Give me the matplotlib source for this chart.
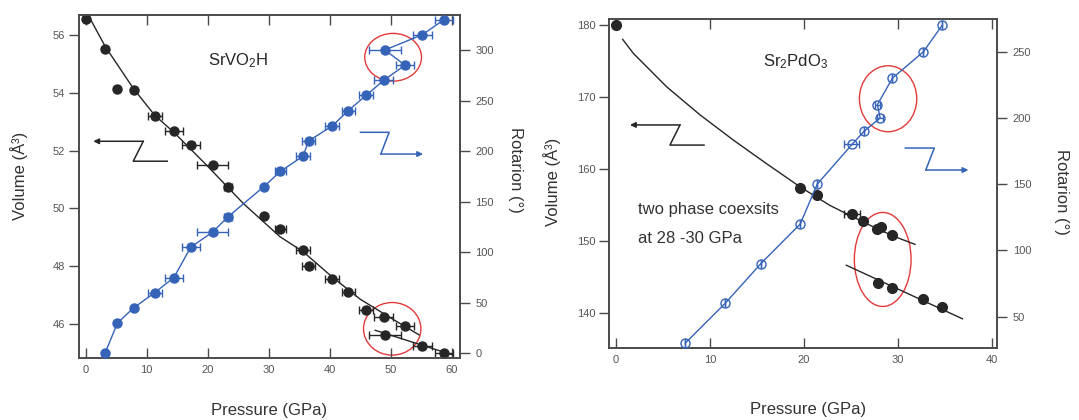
import matplotlib
matplotlib.use("Agg")
import matplotlib.pyplot as plt
from matplotlib.patches import Ellipse

plt.rcParams["font.family"] = ["Liberation Sans", "DejaVu Sans"]
plt.rcParams["mathtext.fontset"] = "custom"
plt.rcParams["mathtext.rm"] = "Liberation Sans"
plt.rcParams["mathtext.it"] = "Liberation Sans"

BLACK = "#262626"
BLUE = "#3563b8"
RED = "#e23a3a"
SPINE = "#4a4a4a"
TICKTXT = "#555555"

# ---- SrVO2H (left panel) ----
sv_p = [0, 3.16, 5.2, 7.85, 11.3, 14.45, 17.2, 20.8, 23.3, 29.2, 31.9, 35.6,
        36.5, 40.4, 43.0, 45.9, 48.8, 52.3, 49.0, 55.1, 58.7]
sv_vol = [56.54, 55.5, 54.13, 54.09, 53.21, 52.68, 52.18, 51.49, 50.73, 49.73,
          49.3, 48.56, 48.0, 47.57, 47.1, 46.48, 46.23, 45.93, 45.63, 45.25, 45.0]
sv_perr = [0, 0, 0, 0, 1.15, 1.45, 1.5, 2.55, 0.6, 0, 0.95, 1.1, 1.1, 1.15,
           1.1, 1.1, 1.55, 1.5, 2.6, 1.55, 1.5]
sv_rot = [0, 30, 45, 60, 75, 105, 120, 135, 165, 180, 195, 210, 225, 240,
          255, 270, 285, 300, 315, 330]          # for sv_p[1:]
sv_fit_p = [0.4, 3.2, 7.8, 11.3, 14.5, 20.0, 25.8, 31.8, 35.6, 40.4, 45.0, 50.0, 54.6]
sv_fit_v = [56.69, 55.6, 54.15, 53.22, 52.62, 51.45, 50.17, 49.02, 48.5, 47.62,
            46.85, 46.2, 45.62]
sv_fit2_p = [47.4, 60.2]
sv_fit2_v = [45.78, 44.92]

# ---- Sr2PdO3 (right panel) ----
sp_p = [0, 19.57, 21.4, 25.1, 26.3, 27.8, 28.2, 29.4, 27.9, 29.4, 32.7, 34.7]
sp_vol = [180.0, 157.3, 156.4, 153.7, 152.74, 151.6, 151.86, 150.75, 144.07,
          143.46, 141.9, 140.75]
sp_perr = [0, 0, 0, 0.87, 0, 0, 0, 0, 0, 0, 0, 0]
sp_rot_p = [7.36, 11.6, 15.4, 19.6, 21.4, 25.1, 26.4, 28.1, 27.8, 29.4, 32.7, 34.7]
sp_rot = [30, 60, 90, 120, 150, 180, 190, 200, 210, 230, 250, 270]
sp_rot_perr = [0, 0, 0, 0, 0, 0.8, 0, 0.3, 0.3, 0, 0, 0]
sp_fit_p = [0.71, 1.84, 5.39, 8.94, 12.48, 16.03, 19.57, 22.77, 26.3, 29.4, 31.8]
sp_fit_v = [178.0, 176.06, 171.4, 167.5, 164.0, 160.7, 157.5, 154.9, 152.6, 150.7, 149.5]
sp_fit2_p = [24.5, 36.85]
sp_fit2_v = [146.6, 139.15]

fig = plt.figure(figsize=(10.79, 4.2), dpi=100)


def style_axes(ax, ax2):
    for a in (ax, ax2):
        for s in a.spines.values():
            s.set_color(SPINE)
            s.set_linewidth(1.2)
    ax.tick_params(axis="x", direction="in", top=True, bottom=True, length=7,
                   width=1, color=SPINE, labelsize=8, labelcolor=TICKTXT, pad=5)
    ax.tick_params(axis="y", direction="out", length=7, width=1, color=SPINE,
                   labelsize=8, labelcolor=TICKTXT, pad=3)
    ax2.tick_params(axis="y", direction="out", length=7, width=1, color=SPINE,
                    labelsize=8, labelcolor=TICKTXT, pad=4)


def zarrow(ax, pts, color):
    # first point is the arrow head
    xs = [p[0] for p in pts]
    ys = [p[1] for p in pts]
    ax.plot(xs[1:], ys[1:], color=color, lw=1.1, clip_on=False)
    ax.annotate("", xy=pts[0], xytext=pts[1],
                arrowprops=dict(arrowstyle="-|>", color=color, lw=1.1,
                                mutation_scale=8, shrinkA=0, shrinkB=0))


def labels(ax, ax2, xl, yl, yr, xlpos, ylpos, yrpos):
    ax.set_xlabel(xl, fontsize=12, color="#333333")
    ax.xaxis.set_label_coords(*xlpos)
    ax.xaxis.label.set_va("center")
    ax.set_ylabel(yl, fontsize=12, color="#333333")
    ax.yaxis.set_label_coords(*ylpos)
    ax.yaxis.label.set_va("center")
    ax2.set_ylabel(yr, fontsize=12, color="#333333", rotation=270)
    ax2.yaxis.set_label_coords(*yrpos)
    ax2.yaxis.label.set_va("center")


# ================= left panel =================
ax = fig.add_axes([0.0732, 0.1476, 0.3531, 0.8167])
ax2 = ax.twinx()
ax.set_xlim(-1.1, 61.3)
ax.set_ylim(44.82, 56.69)
ax2.set_ylim(-4.6, 334.6)
ax.set_xticks([0, 10, 20, 30, 40, 50, 60])
ax.set_yticks([46, 48, 50, 52, 54, 56])
ax2.set_yticks([0, 50, 100, 150, 200, 250, 300])
style_axes(ax, ax2)

ax.plot(sv_fit_p, sv_fit_v, color=BLACK, lw=1.0, clip_on=False)
ax.plot(sv_fit2_p, sv_fit2_v, color=BLACK, lw=1.0)
ax.errorbar(sv_p, sv_vol, xerr=sv_perr, fmt="o", ms=6.5, color=BLACK,
            ecolor=BLACK, elinewidth=1.0, capsize=3, clip_on=False, zorder=3)
ax2.errorbar(sv_p[1:], sv_rot, xerr=sv_perr[1:], fmt="-o", ms=6.5, color=BLUE,
             ecolor=BLUE, lw=1.0, elinewidth=1.0, capsize=3, clip_on=False, zorder=3)

ax2.add_patch(Ellipse((50.35, 292.8), 9.3, 47.2, fill=False, ec=RED, lw=1.0))
ax.add_patch(Ellipse((50.2, 45.83), 9.4, 1.82, fill=False, ec=RED, lw=1.0))

zarrow(ax, [(1.24, 52.32), (9.43, 52.32), (7.79, 51.63), (13.36, 51.63)], BLACK)
zarrow(ax2, [(55.25, 197.1), (48.33, 197.1), (49.7, 218.6), (45.0, 218.6)], BLUE)

ax.text(24.9, 55.1, "SrVO$_2$H", fontsize=12, color=BLACK, ha="center", va="center")
labels(ax, ax2, "Pressure (GPa)", "Volume (Å³)", "Rotarion (°)",
       (0.5, -0.152), (-0.157, 0.53), (1.146, 0.548))

# ================= right panel =================
bx = fig.add_axes([0.5647, 0.1707, 0.3596, 0.7841])
bx2 = bx.twinx()
bx.set_xlim(-0.71, 40.56)
bx.set_ylim(135.05, 180.83)
bx2.set_ylim(26.15, 274.7)
bx.set_xticks([0, 10, 20, 30, 40])
bx.set_yticks([140, 150, 160, 170, 180])
bx2.set_yticks([50, 100, 150, 200, 250])
style_axes(bx, bx2)

bx.plot(sp_fit_p, sp_fit_v, color=BLACK, lw=1.0)
bx.plot(sp_fit2_p, sp_fit2_v, color=BLACK, lw=1.0)
bx.errorbar(sp_p, sp_vol, xerr=sp_perr, fmt="o", ms=7, color=BLACK,
            ecolor=BLACK, elinewidth=1.0, capsize=3, clip_on=False, zorder=3)
bx2.errorbar(sp_rot_p, sp_rot, xerr=sp_rot_perr, fmt="-o", ms=6.5, color=BLUE,
             mfc="none", mew=1.0, ecolor=BLUE, lw=1.0, elinewidth=1.0,
             capsize=3, zorder=3)

bx2.add_patch(Ellipse((28.94, 214.5), 6.1, 49.8, fill=False, ec=RED, lw=1.0))
bx.add_patch(Ellipse((28.37, 147.4), 6.03, 13.07, fill=False, ec=RED, lw=1.0))

zarrow(bx, [(1.49, 166.1), (6.81, 166.1), (5.74, 163.3), (9.36, 163.3)], BLACK)
zarrow(bx2, [(37.48, 160.7), (32.95, 160.7), (33.86, 177.3), (30.78, 177.3)], BLUE)

bx.text(19.1, 174.9, "Sr$_2$PdO$_3$", fontsize=12, color=BLACK, ha="center", va="center")
bx.text(2.37, 154.3, "two phase coexsits", fontsize=12, color="#333333", va="center")
bx.text(2.37, 150.3, "at 28 -30 GPa", fontsize=12, color="#333333", va="center")
labels(bx, bx2, "Pressure (GPa)", "Volume (Å³)", "Rotarion (°)",
       (0.511, -0.187), (-0.148, 0.505), (1.166, 0.475))

fig.savefig("out.png", dpi=100)
